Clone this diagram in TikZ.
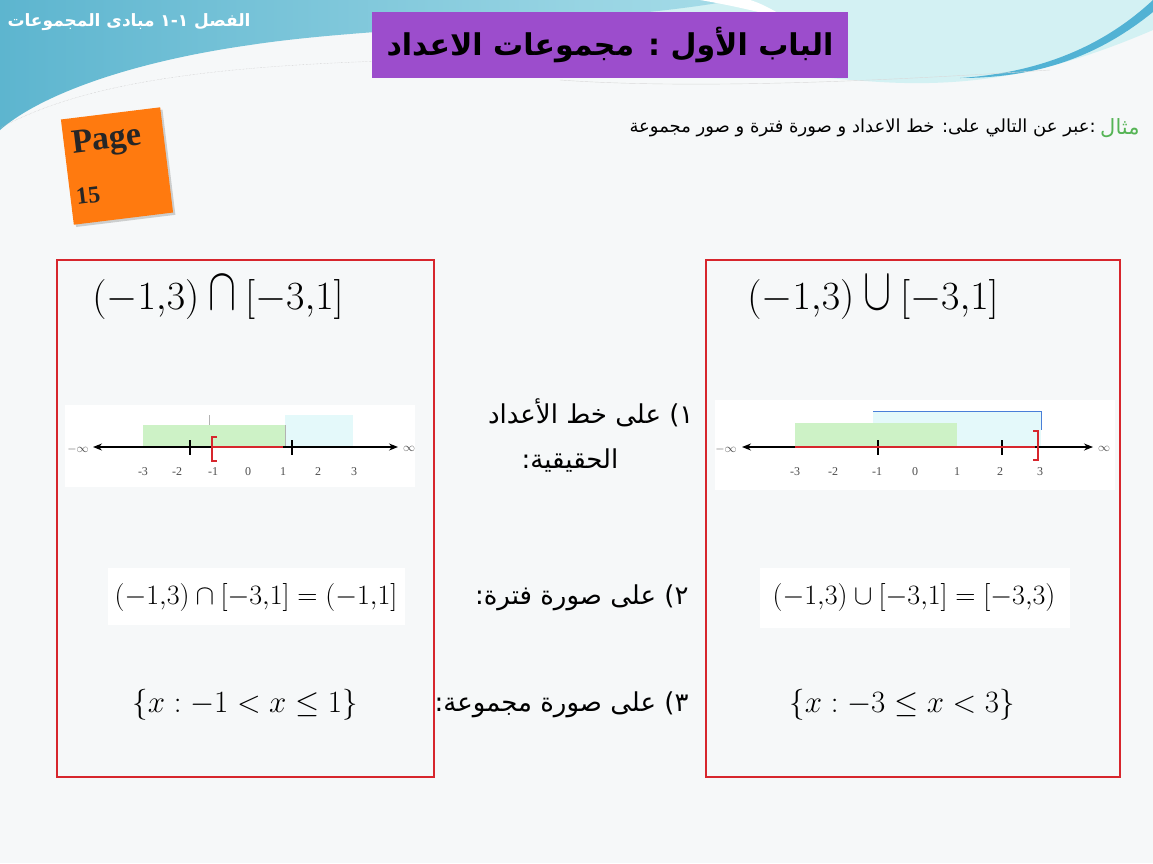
\RequirePackage{fix-cm}
\documentclass[tikz,border=0pt]{standalone}
\usepackage{amsmath}
\usepackage{graphicx}
\usepackage{fontspec}
\setmainfont{Liberation Serif}
\newfontfamily\arabicfont[Script=Arabic]{DejaVu Sans}
\TeXXeTstate=1
\usetikzlibrary{shadows,arrows.meta}

\definecolor{slidebg}{HTML}{F6F8F9}
\definecolor{bannerteal}{HTML}{5DB5CF}
\definecolor{bannerlight}{HTML}{A6DCE8}
\definecolor{bannercyan}{HTML}{D3F1F3}
\definecolor{swooshblue}{HTML}{52B2D4}
\definecolor{titlepurple}{HTML}{9C4DCC}
\definecolor{pageorange}{HTML}{FF7A0F}
\definecolor{boxred}{HTML}{D7262D}
\definecolor{examplegreen}{HTML}{55B455}
\definecolor{lightgreen}{HTML}{CDF2C6}
\definecolor{lightcyan}{HTML}{E4F9FA}
\definecolor{edgeblue}{HTML}{4A7FD8}

\newcommand{\tallcap}{\mathbin{\scalebox{1.05}[1.5]{$\cap$}}}
\newcommand{\tallcup}{\mathbin{\scalebox{1.05}[1.5]{$\cup$}}}

\tikzset{
  redbox/.style={draw=boxred, line width=2.5pt},
  tick/.style={line width=1.2pt},
  ticklabel/.style={font=\fontsize{12}{13}\selectfont, text=black!70},
  arabic/.style={font=\arabicfont\fontsize{26}{29}\selectfont},
  bigmath/.style={font=\fontsize{40}{46}\selectfont},
  eqmath/.style={font=\fontsize{28}{32}\selectfont},
  setmath/.style={font=\fontsize{31}{36}\selectfont},
  pagetext/.style={rotate=7, anchor=west, inner sep=0, text=black!85}
}

\begin{document}
\begin{tikzpicture}[x=1pt, y=-1pt, >={Stealth[length=9pt, width=7pt]}]
  \useasboundingbox (0,0) rectangle (1153,863);
  \fill[slidebg] (0,0) rectangle (1153,863);

  % banner
  \fill[bannercyan] (600,0) -- (1153,0) -- (1153,30)
    .. controls (1060,70) and (980,88) .. (880,82)
    .. controls (780,76) and (700,60) .. (600,45) -- cycle;
  \shade[left color=bannerteal, right color=bannerlight]
    (0,0) -- (735,0) .. controls (600,25) and (380,25) .. (250,45)
    .. controls (130,62) and (40,95) .. (0,130) -- cycle;
  \fill[white] (700,0) .. controls (730,5) and (760,12) .. (790,20)
    .. controls (770,8) and (760,3) .. (750,0) -- cycle;
  \fill[swooshblue] (960,78) .. controls (1050,72) and (1110,40) .. (1153,0)
    -- (1153,12) .. controls (1100,55) and (1040,78) .. (960,78) -- cycle;
  \draw[black!25, densely dotted] (0,128) .. controls (80,85) and (200,65) .. (420,60);
  \draw[black!15] (560,80) .. controls (700,90) and (900,80) .. (1050,70);

  \node[anchor=west, text=white, font=\arabicfont\bfseries\fontsize{17}{20}\selectfont]
    (chapter) at (4,22) {\beginR الفصل ١-١ مبادى المجموعات\endR};
  \node[fill=titlepurple, minimum width=476, minimum height=66,
    font=\arabicfont\bfseries\fontsize{30}{34}\selectfont]
    (title) at (610,45) {\beginR الباب الأول : مجموعات الاعداد\endR};

  \node[fill=pageorange, rotate=7, minimum width=100, minimum height=106,
    drop shadow={opacity=0.35}] (page) at (117,166) {};
  \node[pagetext, font=\bfseries\fontsize{34}{36}\selectfont]
    (pageword) at (72,146) {Page};
  \node[pagetext, font=\bfseries\fontsize{24}{26}\selectfont]
    (pagenum) at (76,197) {15};

  \node[anchor=east, text=examplegreen, font=\arabicfont\fontsize{21}{24}\selectfont]
    (exlabel) at (1143,128) {\beginR مثال\endR};
  \node[anchor=east, inner xsep=1, font=\arabicfont\fontsize{18}{21}\selectfont]
    (extext) at (exlabel.west) {\beginR :عبر عن التالي على: خط الاعداد و صورة فترة و صور مجموعة\endR};

  % frames
  \draw[redbox] (57,260) rectangle (434,777);
  \draw[redbox] (706,260) rectangle (1120,777);
  \fill[white] (65,405) rectangle (415,487);
  \fill[white] (715,400) rectangle (1115,490);
  \fill[white] (108,568) rectangle (405,625);
  \fill[white] (760,568) rectangle (1070,628);

  \node[bigmath] (lcap) at (218,298) {$(-1{,}3)\tallcap[-3{,}1]$};
  \node[bigmath] (rcup) at (873,298) {$(-1{,}3)\tallcup[-3{,}1]$};

  % left number line
  \fill[lightgreen] (143,425) rectangle (285,447);
  \fill[lightcyan] (285,415) rectangle (353,447);
  \draw[black!30] (209,415) -- (209,425);
  \draw[black!30] (285,425) -- (285,447);
  \coordinate (la) at (93,447);
  \coordinate (lb) at (398,447);
  \draw[<->, line width=1.2pt] (la) -- (lb);
  \draw[tick] (190,440) -- (190,455);
  \draw[tick] (292,440) -- (292,455);
  \draw[boxred, line width=2pt] (213,447) -- (283,447);
  \draw[boxred, line width=2.5pt] (217,437) -- (212,437) -- (212,461) -- (217,461);
  \node[ticklabel] (lminf) at (78,449) {$-\infty$};
  \node[ticklabel] (lpinf) at (409,449) {$\infty$};
  \node[ticklabel] (lm3) at (143,472) {-3};
  \node[ticklabel] (lm2) at (177,472) {-2};
  \node[ticklabel] (lm1) at (213,472) {-1};
  \node[ticklabel] (lz) at (248,472) {0};
  \node[ticklabel] (lp1) at (283,472) {1};
  \node[ticklabel] (lp2) at (318,472) {2};
  \node[ticklabel] (lp3) at (354,472) {3};

  % right number line
  \fill[lightcyan] (873,411) rectangle (1041,447);
  \fill[lightgreen] (795,423) rectangle (957,447);
  \draw[edgeblue] (873,411) -- (1041,411) -- (1041,430);
  \coordinate (ra) at (742,447);
  \coordinate (rb) at (1093,447);
  \draw[<->, line width=1.2pt] (ra) -- (rb);
  \draw[tick] (878,440) -- (878,455);
  \draw[tick] (1002,440) -- (1002,455);
  \draw[boxred, line width=2.5pt] (795,447) -- (1035,447);
  \draw[boxred, line width=2.5pt] (1033,431) -- (1038,431) -- (1038,460) -- (1033,460);
  \node[ticklabel] (rminf) at (726,449) {$-\infty$};
  \node[ticklabel] (rpinf) at (1104,449) {$\infty$};
  \node[ticklabel] (rm3) at (795,472) {-3};
  \node[ticklabel] (rm2) at (833,472) {-2};
  \node[ticklabel] (rm1) at (877,472) {-1};
  \node[ticklabel] (rz) at (915,472) {0};
  \node[ticklabel] (rp1) at (957,472) {1};
  \node[ticklabel] (rp2) at (1000,472) {2};
  \node[ticklabel] (rp3) at (1040,472) {3};

  % steps
  \node[arabic, anchor=east] (step1) at (697,413) {\beginR ١) على خط الأعداد\endR};
  \node[arabic] (step1b) at (570,461) {\beginR الحقيقية:\endR};
  \node[arabic, anchor=east] (step2) at (692,598) {\beginR ٢) على صورة فترة:\endR};
  \node[arabic, anchor=east] (step3) at (692,705) {\beginR ٣) على صورة مجموعة:\endR};

  \node[eqmath] (linterval) at (256,597) {$(-1{,}3)\cap[-3{,}1]=(-1{,}1]$};
  \node[eqmath] (rinterval) at (914,597) {$(-1{,}3)\cup[-3{,}1]=[-3{,}3)$};
  \node[setmath] (lset) at (245,705) {$\{x:-1<x\leq 1\}$};
  \node[setmath] (rset) at (902,705) {$\{x:-3\leq x<3\}$};
\end{tikzpicture}
\end{document}
